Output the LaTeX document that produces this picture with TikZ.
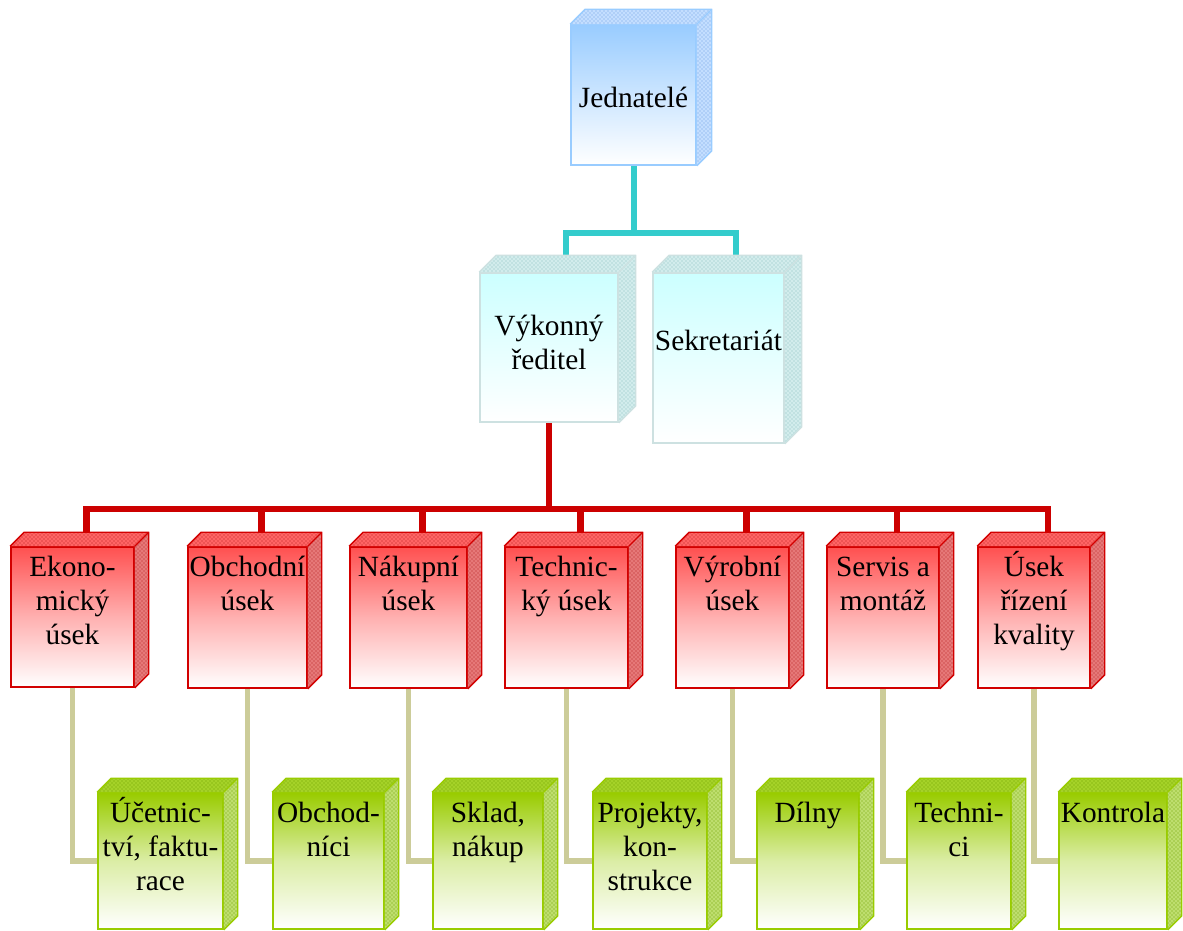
\documentclass[tikz,border=0pt]{standalone}
\usepackage{fontspec}
\setmainfont{Liberation Serif}
\usetikzlibrary{fit,calc,patterns,backgrounds}
\definecolor{blueT}{RGB}{153,204,255}
\definecolor{blueB}{RGB}{153,204,255}
\definecolor{blueS}{RGB}{195,222,255}
\definecolor{blueP}{RGB}{110,160,225}
\definecolor{cyanT}{RGB}{204,255,255}
\definecolor{cyanB}{RGB}{205,225,225}
\definecolor{cyanS}{RGB}{210,236,236}
\definecolor{cyanP}{RGB}{140,190,190}
\definecolor{redT}{RGB}{255,80,80}
\definecolor{redB}{RGB}{210,0,0}
\definecolor{redTop}{RGB}{255,100,100}
\definecolor{redS}{RGB}{230,120,120}
\definecolor{redP}{RGB}{180,30,30}
\definecolor{greenT}{RGB}{153,204,0}
\definecolor{greenB}{RGB}{153,204,0}
\definecolor{greenTop}{RGB}{165,210,40}
\definecolor{greenS}{RGB}{190,222,110}
\definecolor{greenP}{RGB}{110,160,0}
\definecolor{tealL}{RGB}{51,204,204}
\definecolor{redL}{RGB}{204,0,0}
\definecolor{tanL}{RGB}{204,204,153}
\newcommand\cubeparts[6]{%
  \fill[fill=#4, postaction={pattern=crosshatch dots, pattern color=#6}]
    (#1.north west) -- ++(#2,-#2) -- ($(#1.north east)+(#2,-#2)$) -- (#1.north east) -- cycle;
  \fill[fill=#5, postaction={pattern=crosshatch dots, pattern color=#6}]
    (#1.north east) -- ++(#2,-#2) -- ($(#1.south east)+(#2,-#2)$) -- (#1.south east) -- cycle;
  \draw[line width=1pt, draw=#3, line join=round]
    (#1.north west) -- ++(#2,-#2) -- ($(#1.north east)+(#2,-#2)$) -- ($(#1.south east)+(#2,-#2)$) -- (#1.south east)
    (#1.north east) -- ++(#2,-#2);
}
\tikzset{
  front/.style={inner sep=0pt, line width=1.2pt},
  bluebox/.style={front, draw=blueB, top color=blueT, bottom color=white},
  cyanbox/.style={front, draw=cyanB, top color=cyanT, bottom color=white},
  redbox/.style={front, draw=redB, top color=redT, bottom color=white, middle color=redT!45},
  greenbox/.style={front, draw=greenB, top color=greenT, bottom color=white, middle color=greenT!35},
  txt/.style={font=\fontsize{22}{25.5}\selectfont, align=center, anchor=base, inner sep=0pt},
  tealline/.style={draw=tealL, line width=4.5pt},
  redline/.style={draw=redL, line width=4.8pt},
  tanline/.style={draw=tanL, line width=4.3pt},
}
\begin{document}
\begin{tikzpicture}[x=0.75pt, y=-0.75pt]
\useasboundingbox (0,0) rectangle (1183,931);
% top level
\node[bluebox, fit={(571,25) (696,165)}] (jed) {};
\node[cyanbox, fit={(480,273) (618,422)}] (vyk) {};
\node[cyanbox, fit={(653,273) (784,443)}] (sek) {};
% red boxes
\node[redbox, fit={(11,547) (134,687)}] (eko) {};
\node[redbox, fit={(188,547) (307,688)}] (obc) {};
\node[redbox, fit={(350,547) (467,688)}] (nak) {};
\node[redbox, fit={(505,547) (628,688)}] (tec) {};
\node[redbox, fit={(676,547) (789,688)}] (vyr) {};
\node[redbox, fit={(827,547) (939,688)}] (ser) {};
\node[redbox, fit={(978,547) (1090,688)}] (use) {};
% green boxes
\node[greenbox, fit={(98,793) (223,929)}] (uce) {};
\node[greenbox, fit={(273,793) (384,929)}] (obn) {};
\node[greenbox, fit={(433,793) (543,929)}] (skl) {};
\node[greenbox, fit={(593,793) (707,929)}] (pro) {};
\node[greenbox, fit={(757,793) (859,929)}] (dil) {};
\node[greenbox, fit={(907,793) (1011,929)}] (tcn) {};
\node[greenbox, fit={(1059,793) (1167,929)}] (kon) {};
% 3D faces
\cubeparts{jed}{15}{blueB}{blueS}{blueS}{blueP}
\cubeparts{vyk}{17}{cyanB}{cyanS}{cyanS}{cyanP}
\cubeparts{sek}{17}{cyanB}{cyanS}{cyanS}{cyanP}
\foreach \n in {eko,obc,nak,tec,vyr,ser,use}{\cubeparts{\n}{14}{redB}{redTop}{redS}{redP}}
\foreach \n in {uce,obn,skl,pro,dil,tcn,kon}{\cubeparts{\n}{14}{greenB}{greenTop}{greenS}{greenP}}
% texts (anchor = baseline of the last line)
\node[txt] (jed-t) at (633.5,108) {Jednatelé};
\node[txt] (vyk-t) at (549,369) {Výkonný\\ředitel};
\node[txt] (sek-t) at (718.5,350) {Sekretariát};
\node[txt] (eko-t) at (72.5,644) {Ekono-\\mický\\úsek};
\node[txt] (obc-t) at (247.5,610) {Obchodní\\úsek};
\node[txt] (nak-t) at (408.5,610) {Nákupní\\úsek};
\node[txt] (tec-t) at (566.5,610) {Technic-\\ký úsek};
\node[txt] (vyr-t) at (732.5,610) {Výrobní\\úsek};
\node[txt] (ser-t) at (883,610) {Servis a\\montáž};
\node[txt] (use-t) at (1034,644) {Úsek\\řízení\\kvality};
\node[txt] (uce-t) at (160.5,890) {Účetnic-\\tví, faktu-\\race};
\node[txt] (obn-t) at (328.5,856) {Obchod-\\níci};
\node[txt] (skl-t) at (488,856) {Sklad,\\nákup};
\node[txt] (pro-t) at (650,890) {Projekty,\\kon-\\strukce};
\node[txt] (dil-t) at (808,822) {Dílny};
\node[txt] (tcn-t) at (959,856) {Techni-\\ci};
\node[txt] (kon-t) at (1113,822) {Kontrola};
% connectors
\begin{scope}[on background layer]
  \coordinate (tbus) at (633.5,233);
  \draw[tealline] (jed.south) -- (tbus);
  \draw[tealline] (tbus) -| ($(vyk.north)+(17,-17)$);
  \draw[tealline] (tbus) -| ($(sek.north)+(17,-17)$);
  \coordinate (rbus) at (549,509);
  \draw[redline] (vyk.south) -- (rbus);
  \foreach \n in {eko,obc,nak,tec,vyr,ser,use}{
    \draw[redline] (rbus) -| ($(\n.north)+(14,-14)$);
  }
  \draw[tanline] (eko.south) |- (uce.west);
  \draw[tanline] (obc.south) |- (obn.west);
  \draw[tanline] (nak.south) |- (skl.west);
  \draw[tanline] (tec.south) |- (pro.west);
  \draw[tanline] (vyr.south) |- (dil.west);
  \draw[tanline] (ser.south) |- (tcn.west);
  \draw[tanline] (use.south) |- (kon.west);
\end{scope}
\end{tikzpicture}
\end{document}
